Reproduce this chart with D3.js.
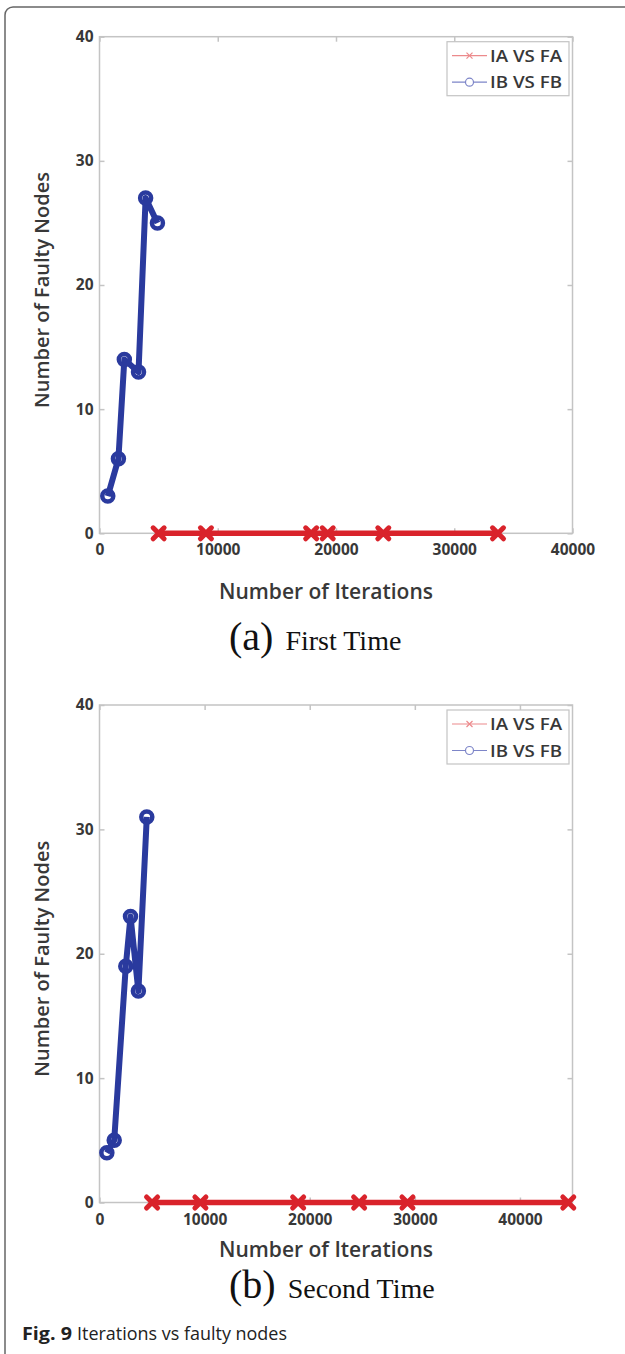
<!DOCTYPE html>
<html>
<head>
<meta charset="utf-8">
<script src="https://cdn.jsdelivr.net/npm/d3@7"></script>
<style>
  body { margin: 0; background: #fff; }
  svg { display: block; }
</style>
</head>
<body>
<div id="chart"></div>
<script>
const width = 625;
const height = 1354;

// values
const iterA1 = [5000, 9000, 17900, 19300, 24000, 33700];
const faultA1 = [0, 0, 0, 0, 0, 0];
const iterB1 = [700, 1600, 2100, 3300, 3900, 4900];
const faultB1 = [3, 6, 14, 13, 27, 25];

const iterA2 = [5000, 9600, 18900, 24700, 29300, 44600];
const faultA2 = [0, 0, 0, 0, 0, 0];
const iterB2 = [700, 1400, 2500, 2950, 3700, 4500];
const faultB2 = [4, 5, 19, 23, 17, 31];

const seriesNames = ["IA VS FA", "IB VS FB"];
const yTicks = [0, 10, 20, 30, 40];
const xTicks1 = [0, 10000, 20000, 30000, 40000];
const xTicks2 = [0, 10000, 20000, 30000, 40000];
const captions = [["(a)", "First Time"], ["(b)", "Second Time"]];

const red = "#d9232b";
const blue = "#2a3a9e";
const frame = "#c4c4c4";

const panels = [
  { top: 36.7, bottom: 533.3, xMax: 40000, xTicks: xTicks1, a: [iterA1, faultA1], b: [iterB1, faultB1], caption: captions[0], labelY: 599, capY: 650 },
  { top: 705, bottom: 1202.5, xMax: 45000, xTicks: xTicks2, a: [iterA2, faultA2], b: [iterB2, faultB2], caption: captions[1], labelY: 1257, capY: 1298 }
];

const left = 99.5;
const right = 572.5;

const svg = d3.select("#chart").append("svg")
  .attr("width", width)
  .attr("height", height);

svg.append("rect")
  .attr("width", width).attr("height", height)
  .attr("fill", "#fff");

// card border
svg.append("rect")
  .attr("x", 5).attr("y", 7)
  .attr("width", 640).attr("height", 1380)
  .attr("rx", 8)
  .attr("fill", "none")
  .attr("stroke", "#666")
  .attr("stroke-width", 1.5);

const zip = (xs, ys) => xs.map((x, i) => ({ x, y: ys[i] }));

panels.forEach(p => {
  const x = d3.scaleLinear().domain([0, p.xMax]).range([left, right]);
  const y = d3.scaleLinear().domain([0, 40]).range([p.bottom, p.top]);

  const g = svg.append("g");

  // box
  g.append("rect")
    .attr("x", left).attr("y", p.top)
    .attr("width", right - left).attr("height", p.bottom - p.top)
    .attr("fill", "none")
    .attr("stroke", frame)
    .attr("stroke-width", 1.5);

  const styleAxis = sel => {
    sel.select(".domain").remove();
    sel.selectAll(".tick line").attr("stroke", frame).attr("stroke-width", 1.5);
    sel.selectAll("text")
      .attr("fill", "#383838")
      .attr("font-family", "'Open Sans', sans-serif")
      .attr("font-weight", 700)
      .attr("font-size", 15.5);
  };

  g.append("g")
    .attr("transform", `translate(${left},0)`)
    .call(d3.axisLeft(y).tickValues(yTicks).tickSize(-5).tickPadding(6))
    .call(styleAxis);
  g.append("g")
    .attr("transform", `translate(${right},0)`)
    .call(d3.axisRight(y).tickValues(yTicks).tickSize(-5).tickFormat(""))
    .call(styleAxis);
  g.append("g")
    .attr("transform", `translate(0,${p.bottom})`)
    .call(d3.axisBottom(x).tickValues(p.xTicks).tickSize(-5).tickPadding(11).tickFormat(d3.format("d")))
    .call(styleAxis);
  g.append("g")
    .attr("transform", `translate(0,${p.top})`)
    .call(d3.axisTop(x).tickValues(p.xTicks).tickSize(-5).tickFormat(""))
    .call(styleAxis);

  const line = d3.line().x(d => x(d.x)).y(d => y(d.y));

  // IB vs FB
  const bData = zip(p.b[0], p.b[1]);
  g.append("path")
    .datum(bData)
    .attr("d", line)
    .attr("fill", "none")
    .attr("stroke", blue)
    .attr("stroke-width", 6)
    .attr("stroke-linejoin", "round");
  g.selectAll(".bpt")
    .data(bData)
    .join("circle")
    .attr("cx", d => x(d.x))
    .attr("cy", d => y(d.y))
    .attr("r", 5.5)
    .attr("fill", "none")
    .attr("stroke", blue)
    .attr("stroke-width", 4.5);

  // IA vs FA
  const aData = zip(p.a[0], p.a[1]);
  g.append("path")
    .datum(aData)
    .attr("d", line)
    .attr("fill", "none")
    .attr("stroke", red)
    .attr("stroke-width", 5.5);
  const s = 5.5;
  g.selectAll(".apt")
    .data(aData)
    .join("path")
    .attr("d", d => {
      const cx = x(d.x), cy = y(d.y);
      return `M${cx - s},${cy - s}L${cx + s},${cy + s}M${cx - s},${cy + s}L${cx + s},${cy - s}`;
    })
    .attr("stroke", red)
    .attr("stroke-width", 5)
    .attr("stroke-linecap", "round");

  // axis titles
  g.append("text")
    .attr("x", 326)
    .attr("y", p.labelY)
    .attr("text-anchor", "middle")
    .attr("font-family", "'Open Sans', sans-serif")
    .attr("font-weight", 600)
    .attr("font-size", 21)
    .attr("fill", "#383838")
    .text("Number of Iterations");
  g.append("text")
    .attr("transform", `translate(49,${(p.top + p.bottom) / 2 + 5}) rotate(-90)`)
    .attr("text-anchor", "middle")
    .attr("font-family", "'Open Sans', sans-serif")
    .attr("font-weight", 600)
    .attr("font-size", 20)
    .attr("fill", "#383838")
    .text("Number of Faulty Nodes");

  // legend
  const lg = g.append("g").attr("transform", `translate(447,${p.top + 5})`);
  lg.append("rect")
    .attr("width", 122).attr("height", 54)
    .attr("fill", "#fff")
    .attr("stroke", frame)
    .attr("stroke-width", 1.2);
  const legendColors = ["#ec8a8c", "#7d85c8"];
  seriesNames.forEach((name, i) => {
    const ly = 14 + i * 26.5;
    lg.append("line")
      .attr("x1", 5).attr("x2", 40)
      .attr("y1", ly).attr("y2", ly)
      .attr("stroke", legendColors[i])
      .attr("stroke-width", 1.2);
    if (i === 0) {
      lg.append("path")
        .attr("d", `M19.5,${ly - 3}L25.5,${ly + 3}M19.5,${ly + 3}L25.5,${ly - 3}`)
        .attr("stroke", legendColors[i]).attr("stroke-width", 1.2);
    } else {
      lg.append("circle")
        .attr("cx", 22.5).attr("cy", ly).attr("r", 4)
        .attr("fill", "#fff")
        .attr("stroke", legendColors[i]).attr("stroke-width", 1.2);
    }
    lg.append("text")
      .attr("x", 43).attr("y", ly + 6)
      .attr("font-family", "'Open Sans', sans-serif")
      .attr("font-weight", 600)
      .attr("font-size", 17)
      .attr("fill", "#383838")
      .attr("textLength", 72)
      .attr("lengthAdjust", "spacingAndGlyphs")
      .text(name);
  });

  // sub caption
  const cap = svg.append("text")
    .attr("x", 229)
    .attr("y", p.capY)
    .attr("font-family", "'Liberation Serif', serif")
    .attr("fill", "#111");
  cap.append("tspan").attr("font-size", 40).text(p.caption[0]);
  cap.append("tspan").attr("font-size", 28).attr("dx", 12).text(p.caption[1]);
});

// figure caption
svg.append("text")
  .attr("x", 22).attr("y", 1340)
  .attr("font-family", "'Open Sans', sans-serif")
  .attr("font-weight", 700)
  .attr("font-size", 17)
  .attr("fill", "#222")
  .attr("textLength", 50)
  .attr("lengthAdjust", "spacingAndGlyphs")
  .text("Fig. 9");
svg.append("text")
  .attr("x", 77).attr("y", 1340)
  .attr("font-family", "'Open Sans', sans-serif")
  .attr("font-weight", 400)
  .attr("font-size", 18)
  .attr("fill", "#222")
  .attr("textLength", 210)
  .attr("lengthAdjust", "spacingAndGlyphs")
  .text("Iterations vs faulty nodes");
</script>
</body>
</html>
